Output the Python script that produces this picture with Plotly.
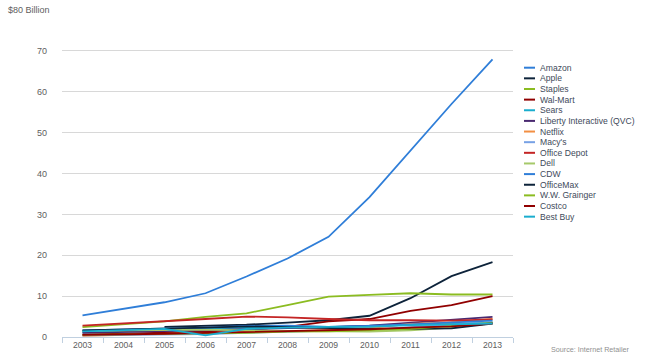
import plotly.graph_objects as go

years = ["2003", "2004", "2005", "2006", "2007", "2008", "2009", "2010", "2011", "2012", "2013"]

amazon = [5.3, 6.9, 8.5, 10.7, 14.8, 19.2, 24.5, 34.2, 45.5, 57.0, 67.9]
apple = [None, None, 2.5, 2.7, 3.0, 3.5, 4.1, 5.2, 9.5, 14.9, 18.3]
staples = [2.4, 3.1, 3.8, 4.9, 5.8, 7.8, 9.9, 10.3, 10.7, 10.4, 10.4]
walmart = [0.6, 0.8, 1.0, 1.3, 1.8, 2.5, 3.8, 4.4, 6.4, 7.8, 10.0]
sears = [1.2, 1.5, 1.8, 2.0, 2.4, 2.6, 2.5, 2.8, 3.0, 3.2, 3.5]
liberty = [1.0, 1.2, 1.4, 1.6, 1.9, 2.2, 2.4, 2.8, 3.5, 4.2, 4.9]
netflix = [0.3, 0.5, 0.7, 1.0, 1.2, 1.4, 1.7, 2.2, 3.2, 3.6, 4.4]
macys = [0.4, 0.5, 0.6, 0.7, 1.0, 1.3, 1.5, 1.8, 2.4, 3.0, 3.6]
office_depot = [2.8, 3.3, 3.8, 4.4, 5.0, 4.8, 4.4, 4.1, 4.1, 4.0, 4.3]
dell = [1.5, 1.6, 1.7, 1.8, 1.6, 1.5, 1.3, 1.3, 1.6, 2.3, 3.4]
cdw = [1.6, 1.8, 2.0, 2.3, 2.7, 2.8, 2.5, 2.7, 3.1, 3.6, 4.0]
officemax = [1.6, 1.8, 2.0, 2.3, 2.6, 2.4, 2.1, 2.0, 2.0, 2.1, 3.3]
grainger = [0.5, 0.6, 0.7, 0.8, 1.0, 1.3, 1.4, 1.7, 2.0, 2.7, 3.5]
costco = [0.5, 0.6, 0.8, 1.0, 1.2, 1.5, 1.6, 1.9, 2.3, 2.6, 3.3]
bestbuy = [1.4, 1.7, 2.0, 0.4, 2.0, 2.3, 2.5, 2.5, 2.9, 3.1, 3.3]

names = ["Amazon", "Apple", "Staples", "Wal-Mart", "Sears", "Liberty Interactive (QVC)",
         "Netflix", "Macy's", "Office Depot", "Dell", "CDW", "OfficeMax",
         "W.W. Grainger", "Costco", "Best Buy"]
series = [amazon, apple, staples, walmart, sears, liberty, netflix, macys,
          office_depot, dell, cdw, officemax, grainger, costco, bestbuy]
colors = ['#2f7ed8', '#0d233a', '#8bbc21', '#910000', '#1aadce', '#492970', '#f28f43',
          '#77a1e5', '#c42525', '#a6c96a', '#2f7ed8', '#0d233a', '#8bbc21', '#910000', '#1aadce']

y_ticks = [0, 10, 20, 30, 40, 50, 60, 70, 80]
y_ticktext = ["0", "10", "20", "30", "40", "50", "60", "70", ""]

FONT = "Liberation Sans, Arial, sans-serif"

fig = go.Figure()
for name, vals, col in zip(names, series, colors):
    fig.add_trace(go.Scatter(x=years, y=vals, name=name, mode="lines",
                             line=dict(color=col, width=1.8), showlegend=False))

# plot area in pixels
L, R, T, B = 62, 513, 10, 337
W, H = R - L, B - T

def px(x):
    return (x - L) / W

def py(y):
    return (B - y) / H

shapes = []
annotations = []
y0 = 67.7
step = 10.64
for i, (name, col) in enumerate(zip(names, colors)):
    yy = y0 + i * step
    shapes.append(dict(type="line", xref="paper", yref="paper",
                       x0=px(524), x1=px(535), y0=py(yy), y1=py(yy),
                       line=dict(color=col, width=2)))
    annotations.append(dict(text=name, xref="paper", yref="paper", x=px(538), y=py(yy),
                            xanchor="left", yanchor="middle", showarrow=False,
                            font=dict(family=FONT, size=8.6, color="#3e4a5a")))

annotations.append(dict(text="$80 Billion", xref="paper", yref="paper", x=px(52), y=py(10),
                        xanchor="right", yanchor="middle", showarrow=False,
                        font=dict(family=FONT, size=9, color="#606060")))
annotations.append(dict(text="Source: Internet Retailer", xref="paper", yref="paper",
                        x=px(632), y=py(349), xanchor="right", yanchor="middle", showarrow=False,
                        font=dict(family=FONT, size=7.2, color="#909090")))

fig.update_layout(
    width=650, height=356,
    margin=dict(l=L, r=650 - R, t=T, b=356 - B, pad=0, autoexpand=False),
    plot_bgcolor="white", paper_bgcolor="white",
    showlegend=False,
    shapes=shapes, annotations=annotations,
    xaxis=dict(type="category", range=[-0.5, 10.5], tickson="boundaries",
               ticks="outside", ticklen=5, tickcolor="#C0D0E0", tickwidth=1,
               showline=True, linecolor="#C0D0E0", linewidth=1, showgrid=False,
               tickfont=dict(family=FONT, size=8.6, color="#606060"), fixedrange=True),
    yaxis=dict(range=[0, 80], tickvals=y_ticks, ticktext=y_ticktext,
               showgrid=True, gridcolor="#d8d8d8", gridwidth=1, zeroline=False,
               ticks="", ticklabelstandoff=14, showline=False,
               tickfont=dict(family=FONT, size=9, color="#606060"), fixedrange=True),
)

fig.write_html("out.html", config={"displayModeBar": False},
               post_script="document.body.style.margin='0';document.body.style.overflow='hidden';")
